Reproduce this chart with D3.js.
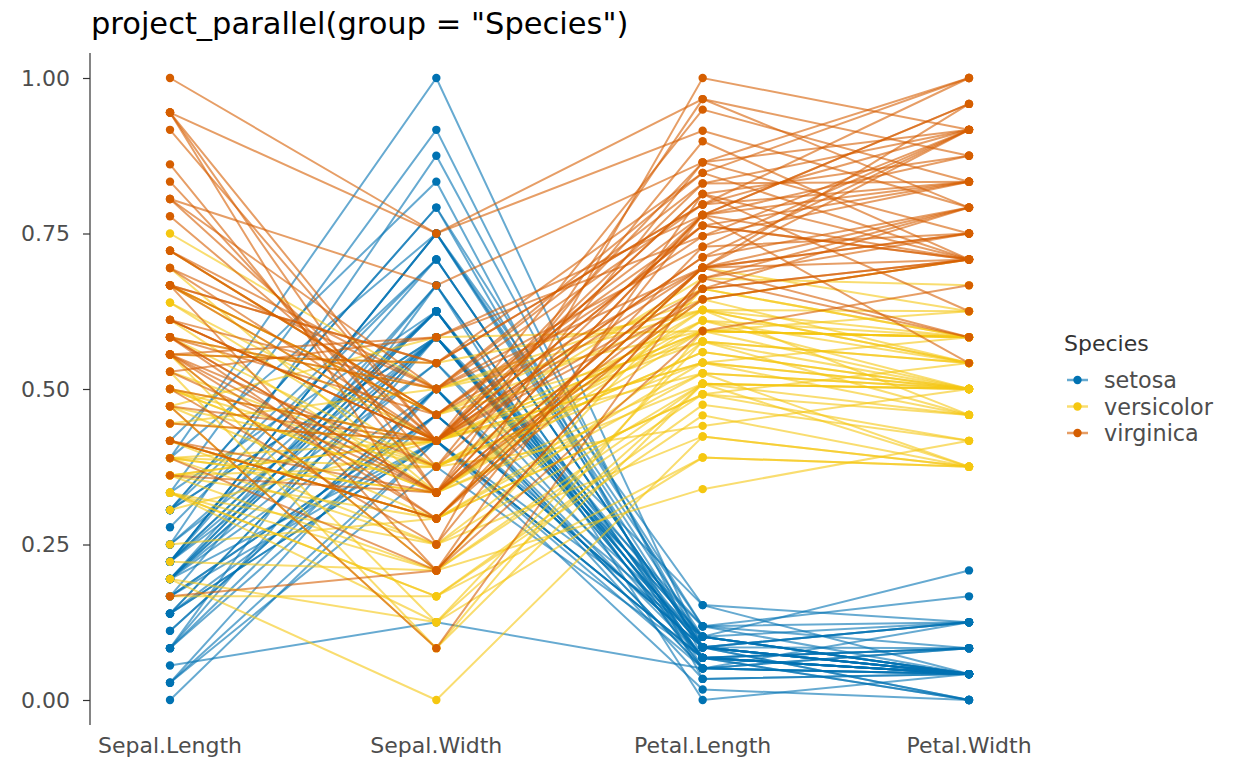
<!DOCTYPE html>
<html>
<head>
<meta charset="utf-8">
<script src="https://cdn.jsdelivr.net/npm/d3@7"></script>
<style>
  body { margin: 0; background: #fff; }
  #box { width: 1248px; height: 771px; }
  text { font-family: "DejaVu Sans", sans-serif; }
</style>
</head>
<body>
<div id="box"></div>
<script>
// iris measurements, one array per column (rows 1-150)
const sepalLength = [5.1,4.9,4.7,4.6,5.0,5.4,4.6,5.0,4.4,4.9,5.4,4.8,4.8,4.3,5.8,5.7,5.4,5.1,5.7,5.1,5.4,5.1,4.6,5.1,4.8,5.0,5.0,5.2,5.2,4.7,4.8,5.4,5.2,5.5,4.9,5.0,5.5,4.9,4.4,5.1,5.0,4.5,4.4,5.0,5.1,4.8,5.1,4.6,5.3,5.0,
  7.0,6.4,6.9,5.5,6.5,5.7,6.3,4.9,6.6,5.2,5.0,5.9,6.0,6.1,5.6,6.7,5.6,5.8,6.2,5.6,5.9,6.1,6.3,6.1,6.4,6.6,6.8,6.7,6.0,5.7,5.5,5.5,5.8,6.0,5.4,6.0,6.7,6.3,5.6,5.5,5.5,6.1,5.8,5.0,5.6,5.7,5.7,6.2,5.1,5.7,
  6.3,5.8,7.1,6.3,6.5,7.6,4.9,7.3,6.7,7.2,6.5,6.4,6.8,5.7,5.8,6.4,6.5,7.7,7.7,6.0,6.9,5.6,7.7,6.3,6.7,7.2,6.2,6.1,6.4,7.2,7.4,7.9,6.4,6.3,6.1,7.7,6.3,6.4,6.0,6.9,6.7,6.9,5.8,6.8,6.7,6.7,6.3,6.5,6.2,5.9];
const sepalWidth = [3.5,3.0,3.2,3.1,3.6,3.9,3.4,3.4,2.9,3.1,3.7,3.4,3.0,3.0,4.0,4.4,3.9,3.5,3.8,3.8,3.4,3.7,3.6,3.3,3.4,3.0,3.4,3.5,3.4,3.2,3.1,3.4,4.1,4.2,3.1,3.2,3.5,3.6,3.0,3.4,3.5,2.3,3.2,3.5,3.8,3.0,3.8,3.2,3.7,3.3,
  3.2,3.2,3.1,2.3,2.8,2.8,3.3,2.4,2.9,2.7,2.0,3.0,2.2,2.9,2.9,3.1,3.0,2.7,2.2,2.5,3.2,2.8,2.5,2.8,2.9,3.0,2.8,3.0,2.9,2.6,2.4,2.4,2.7,2.7,3.0,3.4,3.1,2.3,3.0,2.5,2.6,3.0,2.6,2.3,2.7,3.0,2.9,2.9,2.5,2.8,
  3.3,2.7,3.0,2.9,3.0,3.0,2.5,2.9,2.5,3.6,3.2,2.7,3.0,2.5,2.8,3.2,3.0,3.8,2.6,2.2,3.2,2.8,2.8,2.7,3.3,3.2,2.8,3.0,2.8,3.0,2.8,3.8,2.8,2.8,2.6,3.0,3.4,3.1,3.0,3.1,3.1,3.1,2.7,3.2,3.3,3.0,2.5,3.0,3.4,3.0];
const petalLength = [1.4,1.4,1.3,1.5,1.4,1.7,1.4,1.5,1.4,1.5,1.5,1.6,1.4,1.1,1.2,1.5,1.3,1.4,1.7,1.5,1.7,1.5,1.0,1.7,1.9,1.6,1.6,1.5,1.4,1.6,1.6,1.5,1.5,1.4,1.5,1.2,1.3,1.4,1.3,1.5,1.3,1.3,1.3,1.6,1.9,1.4,1.6,1.4,1.5,1.4,
  4.7,4.5,4.9,4.0,4.6,4.5,4.7,3.3,4.6,3.9,3.5,4.2,4.0,4.7,3.6,4.4,4.5,4.1,4.5,3.9,4.8,4.0,4.9,4.7,4.3,4.4,4.8,5.0,4.5,3.5,3.8,3.7,3.9,5.1,4.5,4.5,4.7,4.4,4.1,4.0,4.4,4.6,4.0,3.3,4.2,4.2,4.2,4.3,3.0,4.1,
  6.0,5.1,5.9,5.6,5.8,6.6,4.5,6.3,5.8,6.1,5.1,5.3,5.5,5.0,5.1,5.3,5.5,6.7,6.9,5.0,5.7,4.9,6.7,4.9,5.7,6.0,4.8,4.9,5.6,5.8,6.1,6.4,5.6,5.1,5.6,6.1,5.6,5.5,4.8,5.4,5.6,5.1,5.1,5.9,5.7,5.2,5.0,5.2,5.4,5.1];
const petalWidth = [0.2,0.2,0.2,0.2,0.2,0.4,0.3,0.2,0.2,0.1,0.2,0.2,0.1,0.1,0.2,0.4,0.4,0.3,0.3,0.3,0.2,0.4,0.2,0.5,0.2,0.2,0.4,0.2,0.2,0.2,0.2,0.4,0.1,0.2,0.2,0.2,0.2,0.1,0.2,0.2,0.3,0.3,0.2,0.6,0.4,0.3,0.2,0.2,0.2,0.2,
  1.4,1.5,1.5,1.3,1.5,1.3,1.6,1.0,1.3,1.4,1.0,1.5,1.0,1.4,1.3,1.4,1.5,1.0,1.5,1.1,1.8,1.3,1.5,1.2,1.3,1.4,1.4,1.7,1.5,1.0,1.1,1.0,1.2,1.6,1.5,1.6,1.5,1.3,1.3,1.3,1.2,1.4,1.2,1.0,1.3,1.2,1.3,1.3,1.1,1.3,
  2.5,1.9,2.1,1.8,2.2,2.1,1.7,1.8,1.8,2.5,2.0,1.9,2.1,2.0,2.4,2.3,1.8,2.2,2.3,1.5,2.3,2.0,2.0,1.8,2.1,1.8,1.8,1.8,2.1,1.6,1.9,2.0,2.2,1.5,1.4,2.3,2.4,1.8,1.8,2.1,2.4,2.3,1.9,2.3,2.5,2.3,1.9,2.0,2.3,1.8];
const species = ['setosa', 'versicolor', 'virginica'];
const speciesColors = ['#0072B2', '#F5C710', '#D55E00'];
const variables = ['Sepal.Length', 'Sepal.Width', 'Petal.Length', 'Petal.Width'];
const yTicks = [0, 0.25, 0.5, 0.75, 1];

const columns = [sepalLength, sepalWidth, petalLength, petalWidth];
// min-max scale each column, like project_parallel does
const scaled = columns.map(col => {
  const [lo, hi] = d3.extent(col);
  return col.map(v => (v - lo) / (hi - lo));
});
const rows = d3.range(150).map(i => ({
  species: species[Math.floor(i / 50)],
  values: variables.map((v, j) => ({ key: v, value: scaled[j][i] }))
}));

const width = 1248, height = 771;
const svg = d3.select('#box').append('svg')
  .attr('width', width).attr('height', height)
  .attr('viewBox', `0 0 ${width} ${height}`);

const x = d3.scalePoint().domain(variables).range([170, 969]);
const y = d3.scaleLinear().domain([0, 1]).range([700, 78]);
const color = d3.scaleOrdinal().domain(species).range(speciesColors);

// title
svg.append('text')
  .attr('x', 91).attr('y', 34)
  .style('font-size', '30.5px')
  .style('fill', '#000')
  .text('project_parallel(group = "Species")');

// y axis
const yAxis = svg.append('g')
  .attr('transform', 'translate(90,0)')
  .call(d3.axisLeft(y).tickValues(yTicks).tickFormat(d3.format('.2f')).tickSize(7).tickPadding(13));
yAxis.select('.domain').attr('d', `M0,${y(1) - 25}V${y(0) + 25}`).attr('stroke', '#333').attr('stroke-width', 1.2);
yAxis.selectAll('.tick line').attr('stroke', '#333').attr('stroke-width', 1.2);
yAxis.selectAll('.tick text')
  .style('font-size', '22px').style('fill', '#4d4d4d')
  .style('font-family', '"DejaVu Sans", sans-serif');

// x labels
svg.append('g').selectAll('text').data(variables).join('text')
  .attr('x', d => x(d)).attr('y', 753)
  .attr('text-anchor', 'middle')
  .style('font-size', '22px').style('fill', '#4d4d4d')
  .text(d => d);

const line = d3.line().x(d => x(d.key)).y(d => y(d.value));

svg.append('g').selectAll('path').data(rows).join('path')
  .attr('d', d => line(d.values))
  .attr('fill', 'none')
  .attr('stroke', d => color(d.species))
  .attr('stroke-opacity', 0.6)
  .attr('stroke-width', 2);

svg.append('g').selectAll('g').data(rows).join('g')
  .attr('fill', d => color(d.species))
  .selectAll('circle').data(d => d.values).join('circle')
  .attr('cx', d => x(d.key))
  .attr('cy', d => y(d.value))
  .attr('r', 4.2);

// legend
const legend = svg.append('g').attr('transform', 'translate(1064,0)');
legend.append('text')
  .attr('x', 0).attr('y', 351)
  .style('font-size', '22px').style('fill', '#333')
  .text('Species');
const item = legend.selectAll('.item').data(species).join('g')
  .attr('class', 'item')
  .attr('transform', (d, i) => `translate(0,${380 + i * 26.5})`);
item.append('line')
  .attr('x1', 3).attr('x2', 24)
  .attr('stroke', d => color(d)).attr('stroke-opacity', 0.6).attr('stroke-width', 2.5);
item.append('circle')
  .attr('cx', 13.5).attr('r', 4.2)
  .attr('fill', d => color(d));
item.append('text')
  .attr('x', 40).attr('y', 8)
  .style('font-size', '22.3px').style('fill', '#4d4d4d')
  .text(d => d);
</script>
</body>
</html>
